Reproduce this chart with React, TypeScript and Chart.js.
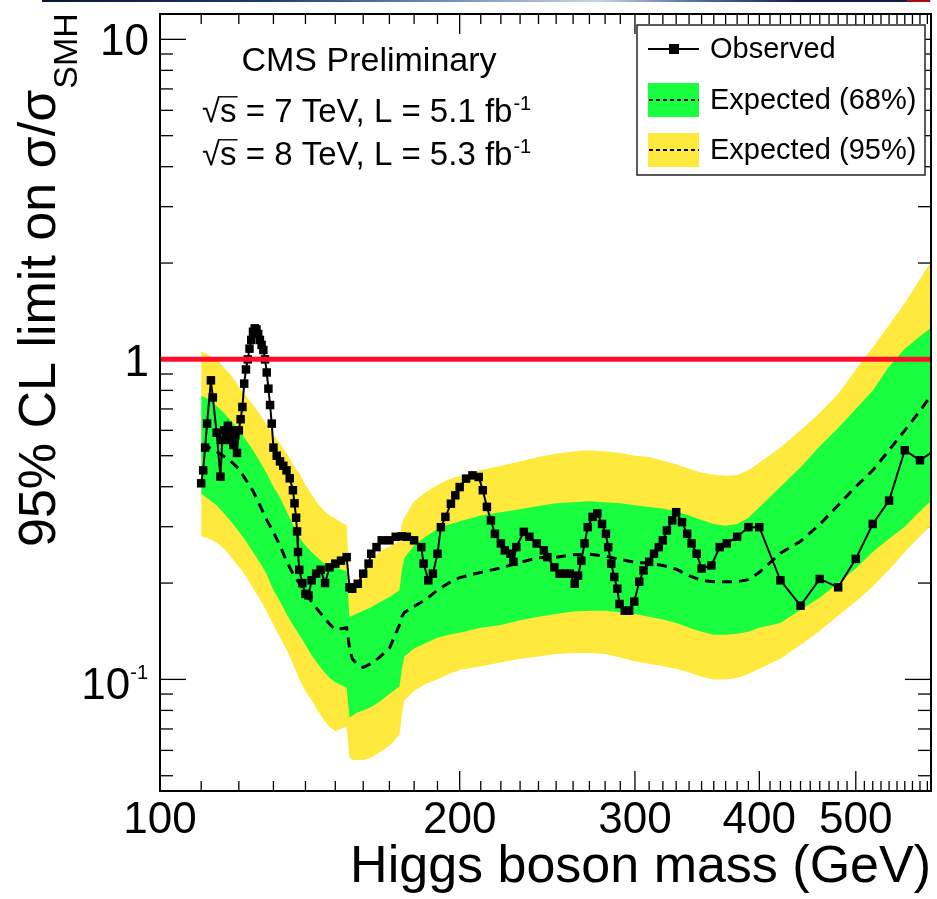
import React, { useEffect, useRef } from 'react';
import { Chart, registerables } from 'chart.js';

Chart.register(...registerables);

const FONT = '"Liberation Sans", Arial, Helvetica, sans-serif';

// ---------------- data ----------------
const observedMass = [110, 110.5, 111, 111.5, 112.5, 113, 114, 115, 115.5, 116, 116.5, 117, 117.5, 118, 118.5, 119, 119.5, 120, 120.5, 121, 121.5, 122, 122.5, 123, 123.5, 124, 124.5, 125, 125.5, 126, 126.5, 127, 127.5, 128, 128.5, 129, 129.5, 130, 131, 132, 133, 134, 135, 136, 136.5, 137, 137.3, 137.6, 138, 139, 140, 141, 142, 143.5, 145, 146.5, 148, 150, 152, 154, 155, 156, 158, 160, 162, 163, 165, 167, 170, 172.5, 175, 177, 180, 183, 184, 186, 188, 190, 191.5, 193.5, 196, 198, 200, 203, 206, 209, 211, 213, 215, 217, 220, 222, 225, 226.5, 228, 232, 235, 239, 243, 245, 249, 252, 255, 258, 261, 263, 265, 267, 269, 272, 275, 278, 280.5, 282, 284, 286, 288, 289.5, 293, 296, 299.5, 303, 306, 310, 313.5, 317, 320, 323, 327, 330, 334.5, 338.5, 342, 346, 350, 358, 365, 371, 380, 390, 400, 420, 440, 460, 480, 500, 520, 540, 560, 580, 600];
const observedLimit = [0.41, 0.45, 0.53, 0.63, 0.86, 0.76, 0.59, 0.43, 0.56, 0.6, 0.57, 0.62, 0.56, 0.6, 0.54, 0.58, 0.51, 0.6, 0.65, 0.71, 0.84, 0.93, 1.0, 1.08, 1.15, 1.22, 1.25, 1.24, 1.2, 1.15, 1.11, 1.07, 1.0, 0.91, 0.81, 0.72, 0.63, 0.53, 0.5, 0.48, 0.465, 0.45, 0.425, 0.39, 0.355, 0.32, 0.29, 0.25, 0.22, 0.2, 0.185, 0.183, 0.204, 0.214, 0.22, 0.2, 0.224, 0.23, 0.235, 0.241, 0.194, 0.192, 0.199, 0.214, 0.23, 0.247, 0.259, 0.272, 0.272, 0.279, 0.28, 0.279, 0.272, 0.259, 0.23, 0.204, 0.214, 0.247, 0.299, 0.322, 0.354, 0.376, 0.399, 0.424, 0.434, 0.429, 0.39, 0.346, 0.314, 0.285, 0.266, 0.253, 0.247, 0.233, 0.259, 0.289, 0.279, 0.266, 0.253, 0.241, 0.224, 0.214, 0.214, 0.214, 0.199, 0.211, 0.235, 0.266, 0.299, 0.322, 0.33, 0.306, 0.285, 0.259, 0.23, 0.209, 0.192, 0.172, 0.164, 0.164, 0.175, 0.202, 0.219, 0.233, 0.247, 0.259, 0.272, 0.292, 0.314, 0.333, 0.31, 0.285, 0.266, 0.247, 0.222, 0.227, 0.259, 0.266, 0.279, 0.299, 0.299, 0.204, 0.17, 0.206, 0.194, 0.238, 0.306, 0.362, 0.52, 0.484, 0.52];

const bandMass = [110, 112, 114, 116, 118, 120, 122, 124, 126, 128, 130, 132, 134, 136, 138, 140, 142, 144, 146, 148, 150, 152, 154, 155, 156, 158, 160, 163, 166, 170, 174, 175, 176, 180, 185, 190, 195, 200, 210, 220, 230, 240, 250, 260, 270, 280, 290, 300, 310, 320, 330, 340, 350, 360, 370, 380, 390, 400, 420, 440, 460, 480, 500, 520, 540, 560, 580, 600];
const yellowHigh = [1.06, 1.03, 1.0, 0.94, 0.89, 0.82, 0.77, 0.72, 0.675, 0.625, 0.58, 0.545, 0.51, 0.47, 0.44, 0.405, 0.378, 0.355, 0.338, 0.326, 0.318, 0.31, 0.303, 0.2, 0.2, 0.205, 0.215, 0.235, 0.25, 0.26, 0.27, 0.31, 0.32, 0.36, 0.385, 0.405, 0.422, 0.432, 0.45, 0.465, 0.48, 0.495, 0.507, 0.515, 0.52, 0.515, 0.51, 0.5, 0.495, 0.482, 0.47, 0.455, 0.442, 0.436, 0.433, 0.435, 0.45, 0.475, 0.53, 0.6, 0.68, 0.78, 0.93, 1.09, 1.28, 1.5, 1.78, 2.1];
const greenHigh = [0.77, 0.75, 0.715, 0.68, 0.64, 0.605, 0.56, 0.52, 0.48, 0.44, 0.4, 0.37, 0.335, 0.305, 0.278, 0.262, 0.25, 0.24, 0.231, 0.226, 0.224, 0.221, 0.218, 0.157, 0.158, 0.161, 0.164, 0.168, 0.174, 0.181, 0.19, 0.22, 0.24, 0.262, 0.28, 0.295, 0.305, 0.312, 0.325, 0.333, 0.34, 0.348, 0.355, 0.358, 0.36, 0.358, 0.355, 0.35, 0.346, 0.342, 0.335, 0.325, 0.315, 0.306, 0.302, 0.306, 0.32, 0.345, 0.4, 0.46, 0.535, 0.61, 0.7, 0.8, 0.95, 1.08, 1.18, 1.28];
const expectedMedian = [0.54, 0.53, 0.515, 0.497, 0.478, 0.455, 0.42, 0.388, 0.35, 0.315, 0.288, 0.262, 0.234, 0.214, 0.2, 0.186, 0.175, 0.165, 0.157, 0.149, 0.143, 0.144, 0.145, 0.126, 0.116, 0.111, 0.109, 0.112, 0.117, 0.125, 0.148, 0.157, 0.162, 0.169, 0.178, 0.19, 0.2, 0.208, 0.216, 0.223, 0.232, 0.24, 0.241, 0.245, 0.246, 0.243, 0.237, 0.232, 0.231, 0.227, 0.221, 0.211, 0.204, 0.202, 0.202, 0.202, 0.205, 0.216, 0.248, 0.27, 0.305, 0.35, 0.4, 0.45, 0.52, 0.6, 0.69, 0.8];
const greenLow = [0.38, 0.365, 0.35, 0.33, 0.31, 0.29, 0.27, 0.25, 0.232, 0.213, 0.19, 0.175, 0.16, 0.148, 0.138, 0.128, 0.119, 0.112, 0.106, 0.101, 0.098, 0.096, 0.094, 0.076, 0.077, 0.079, 0.08, 0.082, 0.085, 0.09, 0.095, 0.108, 0.118, 0.125, 0.13, 0.135, 0.138, 0.14, 0.145, 0.148, 0.153, 0.157, 0.16, 0.163, 0.164, 0.164, 0.162, 0.16, 0.157, 0.154, 0.15, 0.145, 0.141, 0.138, 0.138, 0.139, 0.141, 0.145, 0.15, 0.165, 0.18, 0.2, 0.222, 0.25, 0.275, 0.3, 0.335, 0.37];
const yellowLow = [0.28, 0.275, 0.268, 0.256, 0.24, 0.225, 0.21, 0.193, 0.178, 0.163, 0.148, 0.135, 0.124, 0.112, 0.1, 0.092, 0.086, 0.08, 0.075, 0.071, 0.069, 0.07, 0.071, 0.057, 0.056, 0.056, 0.056, 0.057, 0.059, 0.062, 0.067, 0.078, 0.086, 0.092, 0.097, 0.1, 0.104, 0.107, 0.11, 0.113, 0.116, 0.118, 0.12, 0.121, 0.121, 0.12, 0.117, 0.114, 0.112, 0.11, 0.108, 0.105, 0.102, 0.1, 0.1, 0.101, 0.104, 0.108, 0.116, 0.128, 0.142, 0.158, 0.175, 0.195, 0.22, 0.25, 0.28, 0.31];

const smMass = [100, 600];
const smValue = [1, 1];

const xLabelTicks = [100, 200, 300, 400, 500];
const yLabelTicks = [1, 10];
const xMajorTicks = [100, 200, 300, 400, 500];
const xMinorTicks = [110, 120, 130, 140, 150, 160, 170, 180, 190, 210, 220, 230, 240, 250, 260, 270, 280, 290, 310, 320, 330, 340, 350, 360, 370, 380, 390, 410, 420, 430, 440, 450, 460, 470, 480, 490, 510, 520, 530, 540, 550, 560, 570, 580, 590];
const yMajorTicks = [0.1, 1, 10];
const yMinorTicks = [0.05, 0.06, 0.07, 0.08, 0.09, 0.2, 0.3, 0.4, 0.5, 0.6, 0.7, 0.8, 0.9, 2, 3, 4, 5, 6, 7, 8, 9];

const X_MIN = 100;
const X_MAX = 595;
const Y_MIN = 0.0448;
const Y_MAX = 12;

const GREEN = '#19ff3f';
const YELLOW = '#ffe93c';
const RED = '#ff0c2c';

const pts = (xs: number[], ys: number[]) => xs.map((x, i) => ({ x, y: ys[i] }));

const zeroPad = (s: any) => {
  s.paddingTop = 0;
  s.paddingBottom = 0;
  s.paddingLeft = 0;
  s.paddingRight = 0;
};

const decorPlugin = {
  id: 'rootDecor',
  beforeDatasetsDraw(chart: any) {
    const { ctx, chartArea } = chart;
    const { left, right, top, bottom } = chartArea;
    const xs = chart.scales.x;
    const ys = chart.scales.y;
    ctx.save();
    ctx.strokeStyle = '#000';
    ctx.lineWidth = 1.3;
    const seg = (x1: number, y1: number, x2: number, y2: number) => {
      ctx.beginPath();
      ctx.moveTo(x1, y1);
      ctx.lineTo(x2, y2);
      ctx.stroke();
    };
    xMajorTicks.forEach((v) => {
      const p = xs.getPixelForValue(v);
      seg(p, bottom, p, bottom - 20);
      seg(p, top, p, top + 20);
    });
    xMinorTicks.forEach((v) => {
      const p = xs.getPixelForValue(v);
      seg(p, bottom, p, bottom - 10);
      seg(p, top, p, top + 10);
    });
    yMajorTicks.forEach((v) => {
      const p = ys.getPixelForValue(v);
      seg(left, p, left + 26, p);
      seg(right, p, right - 26, p);
    });
    yMinorTicks.forEach((v) => {
      const p = ys.getPixelForValue(v);
      seg(left, p, left + 13, p);
      seg(right, p, right - 13, p);
    });
    ctx.restore();
  },
  afterDatasetsDraw(chart: any) {
    const { ctx, chartArea } = chart;
    const { left, right, top, bottom } = chartArea;
    ctx.save();
    ctx.strokeStyle = '#000';
    ctx.lineWidth = 2;
    ctx.strokeRect(left, top, right - left, bottom - top);
    ctx.restore();
  },
  afterDraw(chart: any) {
    const { ctx } = chart;
    const ys = chart.scales.y;
    ctx.save();
    ctx.fillStyle = '#000';
    ctx.strokeStyle = '#000';

    // 10^-1 tick label
    ctx.textAlign = 'left';
    ctx.textBaseline = 'alphabetic';
    const p01 = ys.getPixelForValue(0.1);
    ctx.font = `20px ${FONT}`;
    const supW = ctx.measureText('-1').width;
    ctx.font = `44px ${FONT}`;
    const tenW = ctx.measureText('10').width;
    const rightEdge = 148;
    ctx.fillText('10', rightEdge - supW - tenW, p01 + 20);
    ctx.font = `20px ${FONT}`;
    ctx.fillText('-1', rightEdge - supW, p01);

    // y-axis title with subscript
    ctx.save();
    ctx.translate(55, 547);
    ctx.rotate(-Math.PI / 2);
    ctx.font = `52px ${FONT}`;
    const mainT = '95% CL limit on σ/σ';
    ctx.fillText(mainT, 0, 0);
    const mw = ctx.measureText(mainT).width;
    ctx.font = `34px ${FONT}`;
    ctx.fillText('SMH', mw + 1, 22);
    ctx.restore();

    // CMS text
    ctx.font = `34px ${FONT}`;
    ctx.textAlign = 'center';
    ctx.fillText('CMS Preliminary', 369, 71);

    const sqrtLine = (x: number, baseline: number, rest: string, sup: string) => {
      ctx.font = `33px ${FONT}`;
      ctx.textAlign = 'left';
      const mr = ctx.measureText('√');
      ctx.fillText('√', x, baseline);
      const sx = x + mr.width;
      ctx.fillText('s', sx, baseline);
      const sw = ctx.measureText('s').width;
      const asc = mr.actualBoundingBoxAscent || 26;
      const topY = baseline - asc + 0.8;
      const rEdge = mr.actualBoundingBoxRight != null ? x + mr.actualBoundingBoxRight : sx;
      ctx.lineWidth = 1.4;
      ctx.beginPath();
      ctx.moveTo(rEdge - 1, topY);
      ctx.lineTo(sx + sw + 1, topY);
      ctx.stroke();
      const rx = sx + sw;
      ctx.fillText(rest, rx, baseline);
      const rw = ctx.measureText(rest).width;
      ctx.font = `20px ${FONT}`;
      ctx.fillText(sup, rx + rw + 1, baseline - 12);
    };
    sqrtLine(202, 122, ' = 7 TeV, L = 5.1 fb', '-1');
    sqrtLine(202, 165, ' = 8 TeV, L = 5.3 fb', '-1');

    // legend
    const lx = 637, ly = 25, lw = 288, lh = 150;
    ctx.fillStyle = '#fff';
    ctx.fillRect(lx, ly, lw, lh);
    ctx.strokeStyle = '#333';
    ctx.lineWidth = 1.6;
    ctx.strokeRect(lx, ly, lw, lh);

    ctx.strokeStyle = '#000';
    ctx.fillStyle = '#000';
    ctx.lineWidth = 2;
    ctx.beginPath();
    ctx.moveTo(648, 49);
    ctx.lineTo(699, 49);
    ctx.stroke();
    ctx.fillRect(669, 44, 10, 10);

    ctx.fillStyle = GREEN;
    ctx.fillRect(648, 83, 51, 34);
    ctx.fillStyle = YELLOW;
    ctx.fillRect(648, 133, 51, 34);
    ctx.setLineDash([4, 3]);
    ctx.lineWidth = 2;
    ctx.strokeStyle = '#000';
    [100, 150].forEach((yy) => {
      ctx.beginPath();
      ctx.moveTo(649, yy);
      ctx.lineTo(699, yy);
      ctx.stroke();
    });
    ctx.setLineDash([]);

    ctx.fillStyle = '#000';
    ctx.font = `29px ${FONT}`;
    ctx.textAlign = 'left';
    ctx.textBaseline = 'middle';
    ctx.fillText('Observed', 710, 50);
    ctx.fillText('Expected (68%)', 710, 101);
    ctx.fillText('Expected (95%)', 710, 151);
    ctx.restore();
  },
};

export default function App() {
  const ref = useRef<HTMLCanvasElement>(null);

  useEffect(() => {
    const canvas = ref.current;
    if (!canvas) return;
    Chart.defaults.font.family = FONT;
    Chart.defaults.color = '#000';

    const chart = new Chart(canvas, {
      type: 'line',
      data: {
        datasets: [
          {
            label: 'SM',
            data: pts(smMass, smValue),
            borderColor: RED,
            borderWidth: 5,
            pointRadius: 0,
            fill: false,
          },
          {
            label: 'Observed',
            data: pts(observedMass, observedLimit),
            borderColor: '#000',
            borderWidth: 2,
            pointStyle: 'rect',
            pointRadius: 6,
            pointBackgroundColor: '#000',
            pointBorderColor: '#000',
            pointBorderWidth: 0,
            fill: false,
          },
          {
            label: 'Expected median',
            data: pts(bandMass, expectedMedian),
            borderColor: '#000',
            borderWidth: 3,
            borderDash: [10, 7],
            pointRadius: 0,
            fill: false,
          },
          {
            label: 'Expected (68%) high',
            data: pts(bandMass, greenHigh),
            borderColor: 'rgba(0,0,0,0)',
            borderWidth: 0,
            backgroundColor: GREEN,
            pointRadius: 0,
            fill: '+1',
          },
          {
            label: 'Expected (68%) low',
            data: pts(bandMass, greenLow),
            borderColor: 'rgba(0,0,0,0)',
            borderWidth: 0,
            pointRadius: 0,
            fill: false,
          },
          {
            label: 'Expected (95%) high',
            data: pts(bandMass, yellowHigh),
            borderColor: 'rgba(0,0,0,0)',
            borderWidth: 0,
            backgroundColor: YELLOW,
            pointRadius: 0,
            fill: '+1',
          },
          {
            label: 'Expected (95%) low',
            data: pts(bandMass, yellowLow),
            borderColor: 'rgba(0,0,0,0)',
            borderWidth: 0,
            pointRadius: 0,
            fill: false,
          },
        ],
      },
      options: {
        responsive: false,
        animation: false,
        devicePixelRatio: 1,
        events: [],
        layout: { padding: { top: 14, right: 1, left: 0, bottom: 0 } },
        elements: { line: { tension: 0 } },
        plugins: {
          legend: { display: false },
          tooltip: { enabled: false },
          title: { display: false },
        },
        scales: {
          x: {
            type: 'logarithmic',
            position: 'bottom',
            min: X_MIN,
            max: X_MAX,
            bounds: 'data',
            afterBuildTicks: (s: any) => {
              s.ticks = xLabelTicks.map((v) => ({ value: v }));
            },
            afterFit: (s: any) => {
              s.height = 108;
              zeroPad(s);
            },
            ticks: {
              autoSkip: false,
              maxRotation: 0,
              padding: 3,
              font: { size: 44, family: FONT },
              color: '#000',
              callback: (v: any) => String(v),
            },
            grid: { display: false, drawTicks: false },
            border: { display: false },
            title: {
              display: true,
              text: 'Higgs boson mass (GeV)',
              align: 'end',
              color: '#000',
              font: { size: 52, family: FONT },
              padding: 0,
            },
          },
          y: {
            type: 'logarithmic',
            position: 'left',
            min: Y_MIN,
            max: Y_MAX,
            bounds: 'data',
            afterBuildTicks: (s: any) => {
              s.ticks = yLabelTicks.map((v) => ({ value: v }));
            },
            afterFit: (s: any) => {
              s.width = 160;
              zeroPad(s);
            },
            ticks: {
              autoSkip: false,
              padding: 11,
              labelOffset: 4,
              font: { size: 44, family: FONT },
              color: '#000',
              callback: (v: any) => String(v),
            },
            grid: { display: false, drawTicks: false },
            border: { display: false },
          },
        },
      },
      plugins: [decorPlugin],
    } as any);

    return () => chart.destroy();
  }, []);

  return (
    <div style={{ position: 'absolute', left: 0, top: 0, width: 937, height: 899, background: '#fff', overflow: 'hidden' }}>
      <canvas ref={ref} width={937} height={899} style={{ display: 'block', width: 937, height: 899 }} />
      <div
        style={{
          position: 'absolute',
          left: 42,
          top: 0,
          width: 895,
          height: 2,
          background:
            'linear-gradient(to right, #0b1530 0%, #1d3a6e 25%, #6f8fb8 45%, #c8d4e4 62%, #5a78a8 72%, #0d1d4a 85%, #0d1d4a 96.6%, #a01010 96.7%, #a01010 99.2%, #ffffff 99.3%)',
        }}
      />
    </div>
  );
}
